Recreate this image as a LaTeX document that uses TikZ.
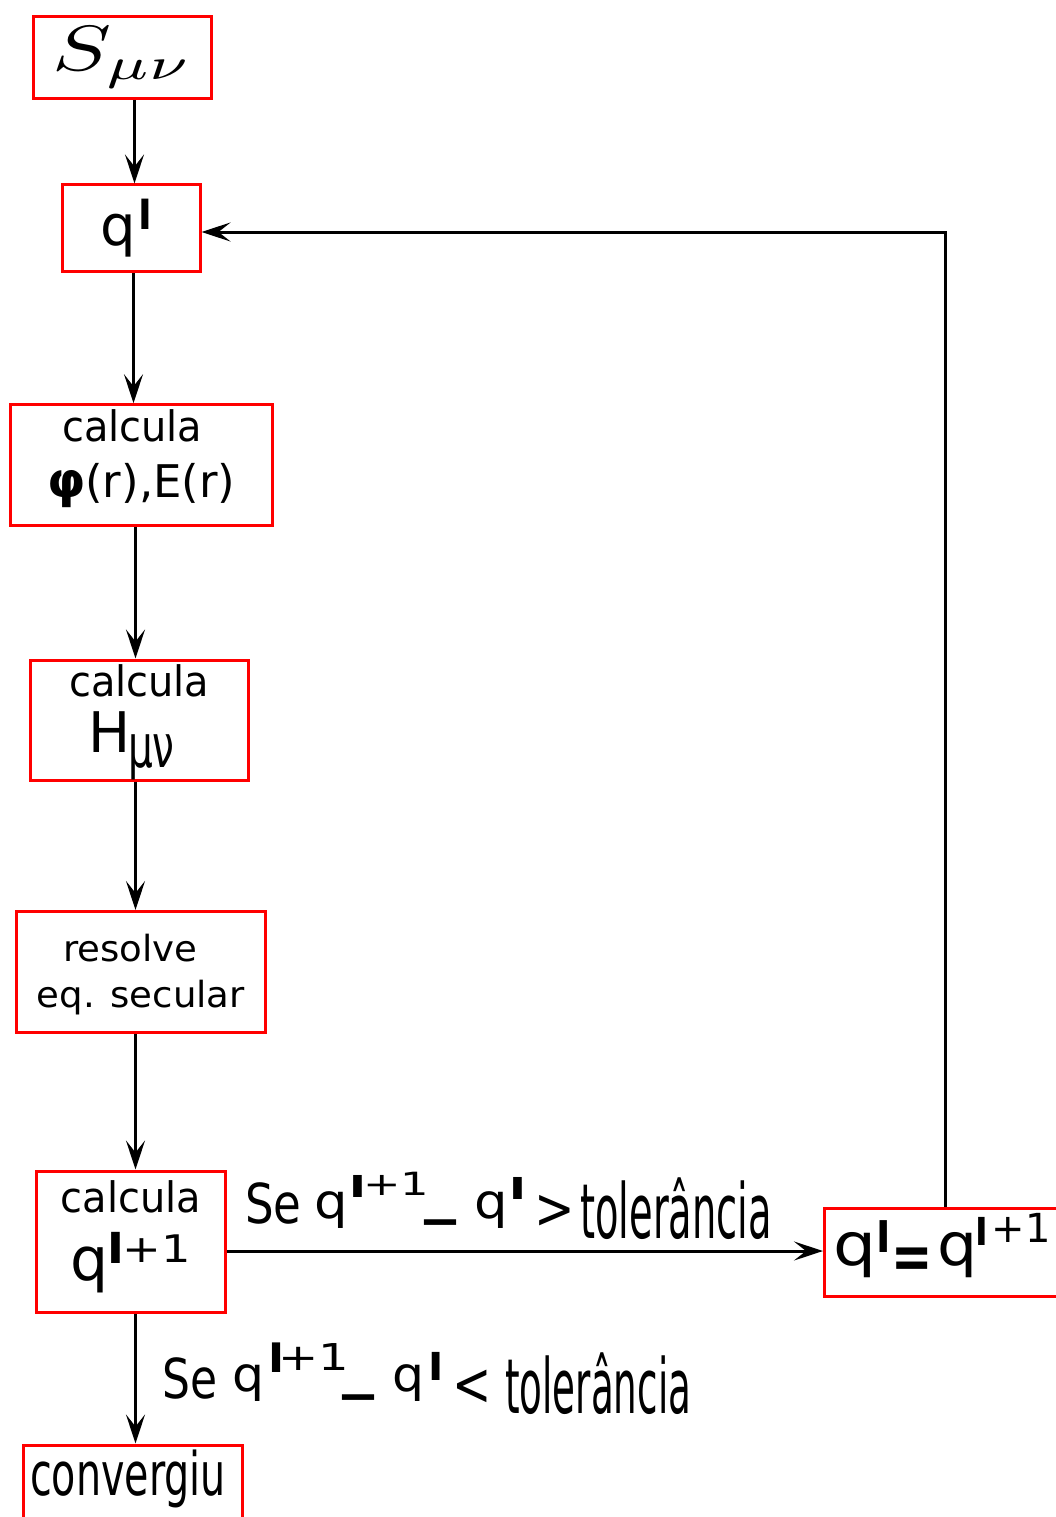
\documentclass[tikz,border=0pt]{standalone}
\usepackage{fontspec}
\setmainfont{DejaVu Sans}
\usepackage{graphicx}
\usetikzlibrary{arrows.meta}
\newcommand\fsz[1]{\fontsize{#1pt}{#1pt}\selectfont}
\newcommand\fsb[2]{\fontsize{#1pt}{#2pt}\selectfont}
\newcommand\at[3]{\rlap{\kern#1pt\raisebox{#2pt}{#3}}}
\newcommand\bl[1]{{\fsz{#1}\bfseries l}}
\begin{document}
\begin{tikzpicture}[x=1pt,y=-1pt,
  box/.style={draw=red, line width=3pt, inner sep=0pt, align=center},
  arr/.style={line width=3pt, -{Stealth[length=29pt,width=19pt,inset=12pt]}},
  lbl/.style={anchor=base west, inner sep=0pt}]
\useasboundingbox (0,0) rectangle (1055,1517);

% boxes
\node[box, minimum width=178pt, minimum height=82pt] (S) at (122.5,57.5)
  {\scalebox{8.8}[6.4]{$S_{\mu\nu}$}};
\node[box, minimum width=137.5pt, minimum height=86.5pt] (q) at (131.25,228.25)
  {{\fsz{56}q}\kern3pt\raisebox{16pt}{\bl{40}}\kern10pt};
\node[box, minimum width=262pt, minimum height=120.5pt, font=\fsb{42}{56}] (phi) at (141.25,465)
  {\scalebox{0.95}[1]{calcula}\kern18pt\\{\fsz{45}{\fsz{49}\bfseries φ}(r),E(r)}\rule[-22pt]{0pt}{22pt}};
\node[box, minimum width=218.5pt, minimum height=120pt, font=\fsb{42}{56}] (H) at (139.25,720)
  {\rule{0pt}{36.5pt}\scalebox{0.95}[1]{calcula}\\{\fsz{56}H}\kern-2pt\raisebox{-15pt}{\scalebox{0.65}[1]{\fsz{60}μν}}\kern15.7pt};
\node[box, minimum width=248.5pt, minimum height=121pt, font=\fsb{36}{46}] (res) at (140.75,972)
  {\rule{0pt}{33pt}\scalebox{1.03}[1]{resolve}\kern21pt\\\scalebox{1.03}[1]{eq. secular}};
\node[box, minimum width=188.5pt, minimum height=141.5pt, font=\fsb{42}{68}] (qn) at (130.75,1241.75)
  {\scalebox{0.95}[1]{calcula}\\{\fsz{60}q}\kern-1.7pt\raisebox{17pt}{\scalebox{1.2}[1]{\bl{41}}}\kern-2pt\raisebox{18pt}{\scalebox{1.22}[1]{\fsz{38}+1}}\rule[-22.5pt]{0pt}{22.5pt}};
\node[box, minimum width=235pt, minimum height=88pt] (qeq) at (942,1252.5)
  {\rule[-27pt]{0pt}{27pt}\scalebox{1.15}[1]{\fsz{59}q}\kern0.5pt\raisebox{13pt}{\bl{42}}\raisebox{-13pt}{\scalebox{1.05}[1.35]{\fsz{47}\bfseries =}}\kern5pt\scalebox{1.07}[1]{\fsz{59}q}\kern-2pt\raisebox{20pt}{\bl{37}}\kern3.6pt\raisebox{23pt}{\fsz{40}+1}};
\node[box, minimum width=219pt, minimum height=80pt] (conv) at (133,1485)
  {\rule[-25.5pt]{0pt}{25.5pt}\scalebox{0.66}[1]{\fsz{60}convergiu}\kern10pt};

% condition labels
\node[lbl] (lab1) at (248,1223) {\makebox[520pt][l]{%
  \at{-3}{0}{\scalebox{0.82}[1]{\fsz{55}Se}}%
  \at{66}{5}{\scalebox{1.1}[1]{\fsz{48}q}}%
  \at{101}{26}{\scalebox{1.7}[1]{\bl{29}}}%
  \at{115}{28}{\scalebox{1.4}[1]{\fsz{32}+1}}%
  \at{172}{-21}{\fsz{80}–}%
  \at{226}{5}{\scalebox{1.1}[1]{\fsz{48}q}}%
  \at{261}{24}{\scalebox{1.7}[1]{\bl{29}}}%
  \at{286}{-5}{\scalebox{0.85}[1]{\fsz{57}>}}%
  \at{332}{-15}{\scalebox{0.505}[1]{\fsz{76}tolerância}}}};
\node[lbl] (lab2) at (165,1398) {\makebox[530pt][l]{%
  \at{-3}{0}{\scalebox{0.8}[1]{\fsz{55}Se}}%
  \at{67}{7}{\scalebox{1.05}[1]{\fsz{48}q}}%
  \at{103}{26}{\scalebox{1.2}[1]{\bl{39}}}%
  \at{113}{28}{\scalebox{1.3}[1]{\fsz{37}+1}}%
  \at{173}{-21}{\fsz{80}–}%
  \at{227}{7}{\scalebox{1.05}[1]{\fsz{48}q}}%
  \at{263}{18}{\scalebox{1.2}[1]{\bl{37}}}%
  \at{287}{-7}{\scalebox{0.77}[1]{\fsz{61}<}}%
  \at{340}{-15}{\scalebox{0.49}[1]{\fsz{76}tolerância}}}};

% helper coordinates
\coordinate (cA) at (134.5,0);
\coordinate (cB) at (133.5,0);
\coordinate (cC) at (135.5,0);
\coordinate (rowH) at (0,1251);
\coordinate (fb) at (945,232);

% connectors
\draw[arr] (S.south -| cA) -- (q.north -| cA);
\draw[arr] (q.south -| cB) -- (phi.north -| cB);
\draw[arr] (phi.south -| cC) -- (H.north -| cC);
\draw[arr] (H.south -| cC) -- (res.north -| cC);
\draw[arr] (res.south -| cC) -- (qn.north -| cC);
\draw[arr] (qn.south -| cC) -- (conv.north -| cC);
\draw[arr] (qn.east |- rowH) -- (qeq.west |- rowH);
\draw[arr] (qeq.north -| fb) -- (fb) -- (q.east |- fb);
\end{tikzpicture}
\end{document}
